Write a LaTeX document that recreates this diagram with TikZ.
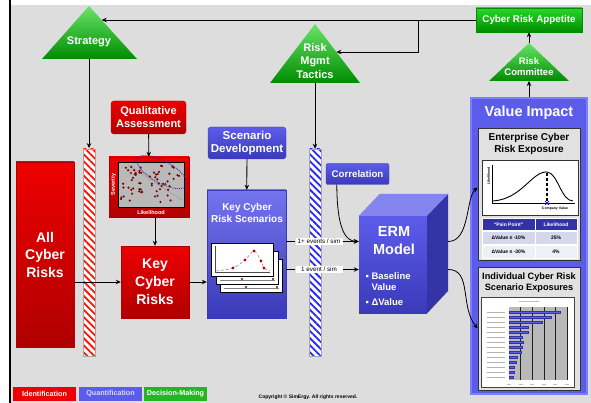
\documentclass[tikz,border=0pt]{standalone}
\usepackage{fontspec}
\setmainfont{Liberation Sans}
\definecolor{cyred}{RGB}{238,0,0}
\definecolor{cyreddark}{RGB}{175,0,0}
\definecolor{cyblue}{RGB}{92,92,235}
\definecolor{cybluedark}{RGB}{58,58,185}
\definecolor{cybluelight}{RGB}{125,125,255}
\definecolor{cygreen}{RGB}{40,215,40}
\definecolor{cygreendark}{RGB}{0,140,0}
\definecolor{cygray}{RGB}{221,221,221}
\definecolor{cypanel}{RGB}{225,225,225}
\definecolor{cynavy}{RGB}{50,50,165}
\definecolor{cydot}{RGB}{120,0,0}
\usetikzlibrary{arrows.meta,positioning,calc,patterns.meta}

\begin{document}
\begin{tikzpicture}[x=1pt,y=-1pt,
  redbox/.style={draw=cyreddark,top color=cyred,bottom color=cyreddark,text=white,align=center,inner sep=0pt},
  bluebox/.style={draw=cybluedark,top color=cyblue,bottom color=cybluedark,text=white,align=center,inner sep=0pt},
  greenbox/.style={draw=cygreendark,top color=cygreen,bottom color=cygreendark,text=white,align=center,inner sep=0pt},
  tritext/.style={text=white,align=center,font=\bfseries\fontsize{11}{13.5}\selectfont},
  hatchbar/.style={draw=gray!70,preaction={fill=white},pattern={Lines[angle=-45,distance=5pt,line width=1.8pt]},minimum width=12,minimum height=207,inner sep=0pt},
  evlabel/.style={fill=white,inner sep=0.8pt,minimum width=47,font=\fontsize{6.3}{7}\selectfont},
  arr/.style={-{Stealth[length=5pt,width=4.5pt]},line width=0.8pt},
  cell/.style={draw=white,line width=0.8pt,minimum height=13.5,inner sep=0pt,font=\bfseries\fontsize{5}{6}\selectfont},
  legend/.style={minimum width=63,minimum height=14,inner sep=0pt,text=white,font=\bfseries\fontsize{7.2}{8}\selectfont}]
  \useasboundingbox (0,0) rectangle (591,403);
  \fill[white] (0,0) rectangle (591,403);
  \fill[cygray] (9,5) rectangle (591,403);
  \draw[line width=2pt] (9.5,0) -- (9.5,403);

  % decision-making triangles
  \shade[top color=cygreen!70!white,bottom color=cygreendark] (89,6) -- (137,59) -- (42,59) -- cycle;
  \node[tritext] (strategy) at (89,42) {Strategy};
  \coordinate (strat-edge) at (101.7,20);
  \coordinate (strat-base) at (89,59);
  \shade[top color=cygreen!70!white,bottom color=cygreendark] (315,24) -- (360,83) -- (270,83) -- cycle;
  \node[tritext] (tactics) at (315,61) {Risk\\Mgmt\\Tactics};
  \coordinate (tact-edge) at (336.4,52);
  \coordinate (tact-base) at (315,83);
  \shade[top color=cygreen!70!white,bottom color=cygreendark] (529,43) -- (569,81) -- (489,81) -- cycle;
  \node[tritext,font=\bfseries\fontsize{9.5}{11.5}\selectfont] (committee) at (529,66.5) {Risk\\Committee};
  \coordinate (comm-apex) at (529,43);
  \coordinate (comm-base) at (529,81);

  \node[greenbox,minimum width=106,minimum height=24,font=\bfseries\fontsize{9.8}{11}\selectfont] (appetite) at (529,20) {Cyber Risk Appetite};
  \coordinate (branch) at (418,20);
  \draw[arr] (appetite.west) -- (strat-edge);
  \draw[arr] (branch) |- (tact-edge);
  \draw[arr] (comm-apex) -- (appetite.south);

  % hatched bars
  \node[hatchbar,pattern color=red!85!orange] (redbar) at (89,252.5) {};
  \node[hatchbar,pattern color=blue!85!white] (bluebar) at (315,252.5) {};
  \draw[arr] (strat-base) -- (redbar.north);
  \draw[arr] (tact-base) -- (bluebar.north);

  % identification
  \node[redbox,minimum width=58,minimum height=185,font=\bfseries\fontsize{14}{17.5}\selectfont] (allrisks) at (45,254.5) {All\\Cyber\\Risks};
  \node[redbox,rounded corners=3,minimum width=75,minimum height=33,font=\bfseries\fontsize{11}{13}\selectfont] (qual) at (148.5,117.5) {Qualitative\\Assessment};
  \node[redbox,minimum width=80,minimum height=60] (scatter) at (149,187) {};
  \node[draw=black,fill=gray!55,minimum width=66,minimum height=45,inner sep=0pt] (plot) at (151,184.5) {};
  \node[rotate=90,text=white,font=\bfseries\fontsize{5.5}{6}\selectfont] (sev) at (113.5,184.5) {Severity};
  \node[text=white,font=\bfseries\fontsize{5.5}{6}\selectfont] (lik) at (151,213) {Likelihood};
  \draw[gray!75,line width=0.6pt] (128,165) -- (182,200);
  \pgfmathsetseed{11}
  \foreach \i in {1,...,62} {
    \pgfmathsetmacro\dx{121+60*rnd}
    \pgfmathsetmacro\dy{165+39*rnd}
    \fill[cydot] (\dx,\dy) circle[radius=1.2];
  }
  \draw[cynavy,densely dotted,line width=0.9pt] (162,172) ellipse[x radius=28,y radius=11,rotate=-29];
  \node[redbox,minimum width=68,minimum height=72,font=\bfseries\fontsize{14}{18}\selectfont] (keyrisks) at (155,282) {Key\\Cyber\\Risks};
  \draw[arr] (qual) -- (scatter);
  \draw[arr] (keyrisks.north |- scatter.south) -- (keyrisks.north);
  \draw[arr] (allrisks.east |- keyrisks) -- (keyrisks);

  % quantification
  \node[bluebox,rounded corners=3,minimum width=78,minimum height=32,font=\bfseries\fontsize{11.5}{13.5}\selectfont] (scendev) at (247,143) {Scenario\\Development};
  \node[bluebox,top color=cyblue!85!white,minimum width=79,minimum height=128] (kcrs) at (246.5,254) {};
  \node[text=white,align=center,font=\bfseries\fontsize{10}{12}\selectfont] (kcrstitle) at (247,213) {Key Cyber\\Risk Scenarios};
  \draw[arr] (scendev) -- (kcrs);
  \draw[arr] (keyrisks) -- (kcrs.west |- keyrisks);
  \foreach \ox/\oy in {9/16,5/8} {
    \draw[fill=white,line width=0.6pt] (211+\ox,243+\oy) rectangle (273+\ox,276+\oy);
    \draw[gray] (215+\ox,272+\oy) -- (270+\ox,272+\oy);
    \fill[cydot] (237+\ox,271+\oy) circle[radius=1.2] (268+\ox,271+\oy) circle[radius=1.2];
  }
  \draw[fill=white,line width=0.6pt] (211,243) rectangle (273,276);
  \draw[gray!60!black,line width=0.4pt] (215,246) -- (215,272) -- (270,272);
  \draw[gray,densely dashed,line width=0.5pt] plot[smooth] coordinates {(216,271) (233,268) (245,260) (254,251) (261,261) (264,268) (270,271)};
  \foreach \px/\py in {233/268,245/260,254/251,261/261,264/268}
    \fill[cyred!80!black] (\px,\py) circle[radius=1.6];

  \node[bluebox,rounded corners=2,minimum width=63,minimum height=21,font=\bfseries\fontsize{9.7}{11}\selectfont] (corr) at (357.5,174) {Correlation};

  % ERM cube
  \node[bluebox,draw=none,minimum width=68,minimum height=97] (erm) at (393,264.5) {};
  \fill[cyblue!75!white] (erm.north west) -- ++(21,-22) -- ++(68,0) -- (erm.north east) -- cycle;
  \fill[cybluedark!90!black] (erm.north east) -- ++(21,-22) -- ++(0,97) -- (erm.south east) -- cycle;
  \node[text=white,align=center,font=\bfseries\fontsize{14.5}{18}\selectfont] (ermtitle) at (394,241) {ERM\\Model};
  \node[anchor=north west,text=white,align=left,font=\bfseries\fontsize{9.5}{11}\selectfont] (ermvals) at (362,269) {▪ Baseline\\\phantom{▪ }Value\\[4pt]▪ ΔValue};

  \node[evlabel] (ev1) at (319,241.5) {1+ events / sim};
  \node[evlabel] (ev2) at (319,269.5) {1 event / sim};
  \draw[line width=0.8pt] (kcrs.east |- ev1) -- (ev1);
  \draw[line width=0.8pt] (kcrs.east |- ev2) -- (ev2);
  \draw[arr] (ev1) -- (erm.west |- ev1);
  \draw[arr] (ev2) -- (erm.west |- ev2);
  \draw[arr] ([xshift=11pt]corr.south west) .. controls (337,228) and (345,241) .. (erm.west |- ev1);

  % value impact
  \node[draw=cybluelight,line width=2.5pt,fill=cyblue,minimum width=116,minimum height=296,inner sep=0pt] (value) at (529,246) {};
  \node[text=white,font=\bfseries\fontsize{14.5}{16}\selectfont] (valtitle) at (529,113) {Value Impact};
  \draw[arr] (value.north) -- (comm-base);

  \node[draw=gray!40!black,line width=0.7pt,fill=cypanel,minimum width=102,minimum height=132,inner sep=0pt] (entpanel) at (529,194) {};
  \node[align=center,font=\bfseries\fontsize{10}{12}\selectfont] (enttitle) at (529,144) {Enterprise Cyber\\Risk Exposure};
  \node[draw=gray!40!black,fill=white,minimum width=96,minimum height=55,inner sep=0pt] (entchart) at (530,187.5) {};
  \draw[line width=0.7pt] (492,165) -- (492,203) -- (575,203);
  \draw[line width=0.9pt] (493,201) .. controls (522,199) and (532,171) .. (547,172) .. controls (558,173) and (561,201) .. (573,201);
  \draw[line width=1.2pt,dash pattern=on 3pt off 2pt] (547,173) -- (547,202);
  \draw[blue,line width=0.7pt] (545,201) -- (549,205) (545,205) -- (549,201);
  \node[rotate=90,font=\bfseries\fontsize{3.5}{4}\selectfont] (entlik) at (488.5,176) {Likelihood};
  \node[font=\bfseries\fontsize{3.5}{4}\selectfont] (entcv) at (555,209) {Company Value};
  \node[cell,fill=cynavy,text=white,minimum width=53,minimum height=11.5] (h1) at (508.5,224.5) {“Pain Point”};
  \node[cell,fill=cynavy,text=white,minimum width=42,minimum height=11.5] (h2) at (556,224.5) {Likelihood};
  \node[cell,fill=cynavy!20!white,minimum width=53,below=0pt of h1] (r1a) {ΔValue ≤ -10\%};
  \node[cell,fill=cynavy!20!white,minimum width=42,below=0pt of h2] (r1b) {25\%};
  \node[cell,fill=cynavy!8!white,minimum width=53,below=0pt of r1a] (r2a) {ΔValue ≤ -30\%};
  \node[cell,fill=cynavy!8!white,minimum width=42,below=0pt of r1b] (r2b) {4\%};

  \node[draw=gray!40!black,line width=0.7pt,fill=cypanel,minimum width=102,minimum height=123,inner sep=0pt] (indpanel) at (529,328.5) {};
  \node[align=center,font=\bfseries\fontsize{9.2}{11}\selectfont] (indtitle) at (529,283) {Individual Cyber Risk\\Scenario Exposures};
  \node[draw=gray!50!black,line width=0.6pt,fill=white,minimum width=93,minimum height=90,inner sep=0pt] (indchart) at (527.5,342) {};
  \draw[gray!50,line width=0.6pt] (519,301) -- (539,301);
  \fill[gray!55] (509,307) rectangle (567,380);
  \foreach \g in {1,...,5}
    \draw[gray!25!black,line width=0.6pt] ({509+11.6*\g},307) -- ({509+11.6*\g},380);
  \foreach \e [count=\k from 0] in {560,551,542,528,528,522,523,522,521,517,516,514,514,513} {
    \fill[cyblue,draw=cynavy,line width=0.3pt] (509,{311+5*\k}) rectangle (\e,{313.5+5*\k});
    \draw[gray!60,line width=0.7pt] (487,{312.3+5*\k}) -- (505,{312.3+5*\k});
  }
  \foreach \g in {0,...,5}
    \draw[gray!50,line width=0.6pt] ({507+11.6*\g},384) -- ({511+11.6*\g},384);

  \draw[arr] ($(erm.east |- ev1)+(21,0)$) .. controls +(22,0) and +(-12,10) .. (entpanel.west |- entchart);
  \draw[arr] ($(erm.east |- ev2)+(21,0)$) .. controls +(24,0) and +(-18,-22) .. (indpanel.west);

  % legend
  \node[legend,fill=cyred] (legid) at (44.5,394) {Identification};
  \node[legend,fill=cyblue,text=white!85!blue] (legqu) at (110.5,394) {Quantification};
  \node[legend,fill=cygreen!85!black] (legdm) at (175.5,394) {Decision-Making};
  \node[font=\bfseries\fontsize{5}{6}\selectfont] (copyright) at (308,397) {Copyright © SimErgy. All rights reserved.};
\end{tikzpicture}
\end{document}
